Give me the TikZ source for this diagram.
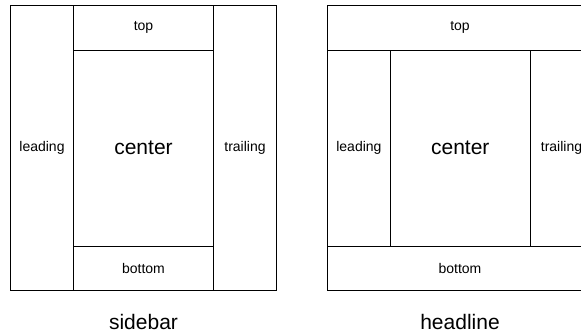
\documentclass[tikz,border=0pt]{standalone}
\usepackage{fontspec}
\setmainfont{Liberation Sans}
\tikzset{
  region/.style={draw, line width=0.9pt, inner sep=0pt, outer sep=0pt},
  small/.style={font=\fontsize{14}{16}\selectfont},
  big/.style={font=\fontsize{21}{24}\selectfont}
}
\begin{document}
\begin{tikzpicture}[x=1pt, y=-1pt]
  \useasboundingbox (0,0) rectangle (581,334);

  % Diseño sidebar
  \node[region, small, minimum width=63.4pt, minimum height=284.7pt] (sLeading) at (42,147.7) {leading};
  \node[region, small, minimum width=63.4pt, minimum height=284.7pt] (sTrailing) at (245,147.7) {trailing};
  \node[region, small, minimum width=139.6pt, minimum height=44.7pt] (sTop) at (143.5,27.7) {top};
  \node[region, big, minimum width=139.6pt, minimum height=196.3pt] (sCenter) at (143.5,148.2) {center};
  \node[region, small, minimum width=139.6pt, minimum height=43.7pt] (sBottom) at (143.5,268.2) {bottom};
  \node[big] (sLabel) at (143.5,322) {sidebar};

  % Diseño headline
  \node[region, small, minimum width=266pt, minimum height=44.7pt] (hTop) at (460,27.7) {top};
  \node[region, small, minimum width=63.7pt, minimum height=196.3pt] (hLeading) at (358.9,148.2) {leading};
  \node[region, big, minimum width=139.3pt, minimum height=196.3pt] (hCenter) at (460.3,148.2) {center};
  \node[region, small, minimum width=63pt, minimum height=196.3pt] (hTrailing) at (561.5,148.2) {trailing};
  \node[region, small, minimum width=266pt, minimum height=43.7pt] (hBottom) at (460,268.2) {bottom};
  \node[big] (hLabel) at (460,322) {headline};
\end{tikzpicture}
\end{document}
